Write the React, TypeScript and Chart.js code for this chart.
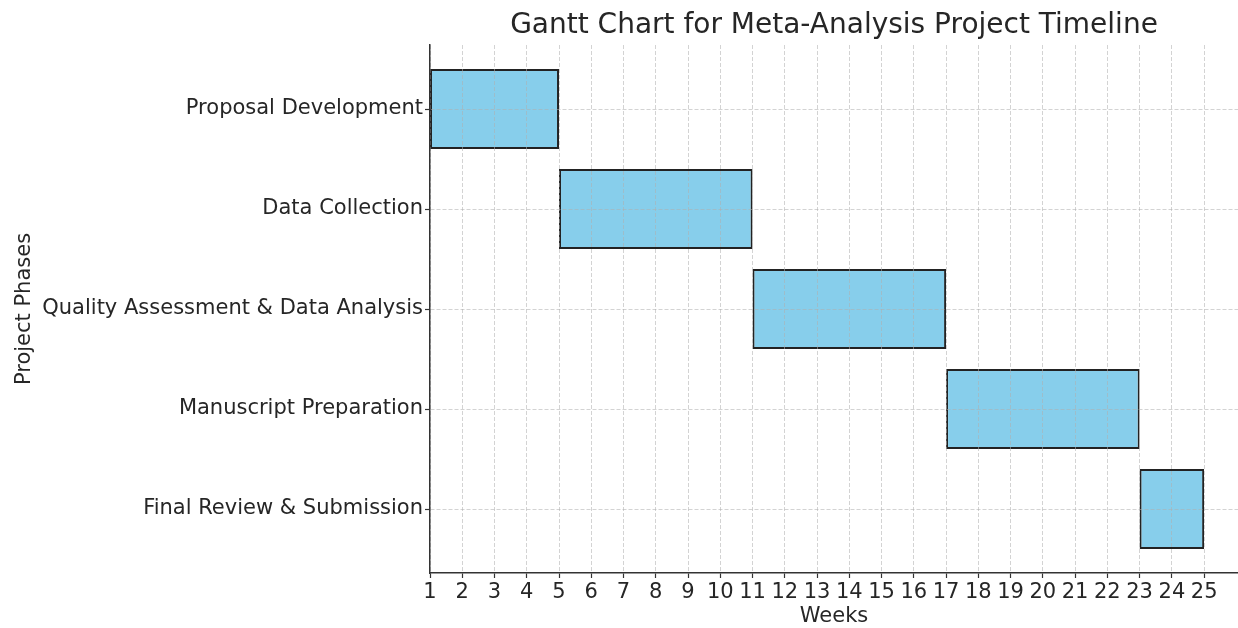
import React, { useEffect, useRef } from "react";
import { Chart, registerables } from "chart.js";

Chart.register(...registerables);

const phases = [
  "Proposal Development",
  "Data Collection",
  "Quality Assessment & Data Analysis",
  "Manuscript Preparation",
  "Final Review & Submission",
];
const startWeeks = [1, 5, 11, 17, 23];
const endWeeks = [5, 11, 17, 23, 25];
const weekTicks = [1, 2, 3, 4, 5, 6, 7, 8, 9, 10, 11, 12, 13, 14, 15, 16, 17, 18, 19, 20, 21, 22, 23, 24, 25];

const FONT = "'DejaVu Sans', sans-serif";
const TEXT = "#262626";

export default function App() {
  const ref = useRef<HTMLCanvasElement | null>(null);

  useEffect(() => {
    if (!ref.current) return;
    const gridCommon = {
      color: "rgba(175,175,175,0.55)",
      lineWidth: 1,
      tickBorderDash: [],
      tickColor: "#333333",
      tickLength: 5,
      tickWidth: 1.2,
      drawOnChartArea: true,
      offset: false,
      z: 1,
    };
    const borderCommon = { display: true, color: "#333333", width: 1.5, dash: [4, 2], z: 2 };
    const chart = new Chart(ref.current, {
      type: "bar",
      data: {
        datasets: [
          {
            data: phases.map((_, i) => ({ x: [startWeeks[i], endWeeks[i]], y: i })) as any,
            backgroundColor: "#87CEEB",
            borderColor: "#222222",
            borderWidth: 2,
            borderSkipped: false,
            barPercentage: 0.8,
            categoryPercentage: 1.0,
          },
        ],
      },
      options: {
        indexAxis: "y",
        animation: false,
        responsive: true,
        maintainAspectRatio: false,
        layout: { padding: { left: 0, right: 0, top: 0, bottom: 0 } },
        plugins: {
          legend: { display: false },
          tooltip: { enabled: false },
          title: {
            display: true,
            text: "Gantt Chart for Meta-Analysis Project Timeline",
            fullSize: false,
            color: TEXT,
            font: { family: FONT, size: 28, weight: "normal" },
            padding: { top: 9, bottom: 2.4 },
          },
        },
        scales: {
          x: {
            type: "linear",
            position: "bottom",
            min: 1,
            max: 26.05,
            offset: false,
            afterBuildTicks: (scale: any) => {
              scale.ticks = weekTicks.map((v) => ({ value: v }));
            },
            afterFit: (scale: any) => {
              scale.height = 55;
            },
            ticks: {
              autoSkip: false,
              maxRotation: 0,
              color: TEXT,
              padding: 2,
              z: 2,
              font: { family: FONT, size: 21 },
              callback: (v: any) => String(v),
            },
            grid: gridCommon as any,
            border: borderCommon as any,
            title: {
              display: true,
              text: "Weeks",
              color: TEXT,
              font: { family: FONT, size: 21, lineHeight: 1.05 },
              padding: { top: 0, bottom: 0 },
            },
          },
          y: {
            type: "linear",
            position: "left",
            reverse: true,
            min: -0.64,
            max: 4.64,
            offset: false,
            afterBuildTicks: (scale: any) => {
              scale.ticks = phases.map((_, i) => ({ value: i }));
            },
            afterFit: (scale: any) => {
              scale.width = 430;
            },
            ticks: {
              autoSkip: false,
              color: TEXT,
              padding: 2,
              z: 2,
              font: { family: FONT, size: 21 },
              callback: (v: any) => phases[Math.round(Number(v))] ?? "",
            },
            grid: gridCommon as any,
            border: borderCommon as any,
            title: {
              display: true,
              text: "Project Phases",
              color: TEXT,
              font: { family: FONT, size: 21, lineHeight: 1.1 },
              padding: { top: 13, bottom: 0 },
            },
          },
        },
      } as any,
    });
    return () => chart.destroy();
  }, []);

  return (
    <div style={{ position: "fixed", left: 0, top: 0, width: 1238, height: 628, background: "#ffffff" }}>
      <canvas ref={ref} />
    </div>
  );
}
